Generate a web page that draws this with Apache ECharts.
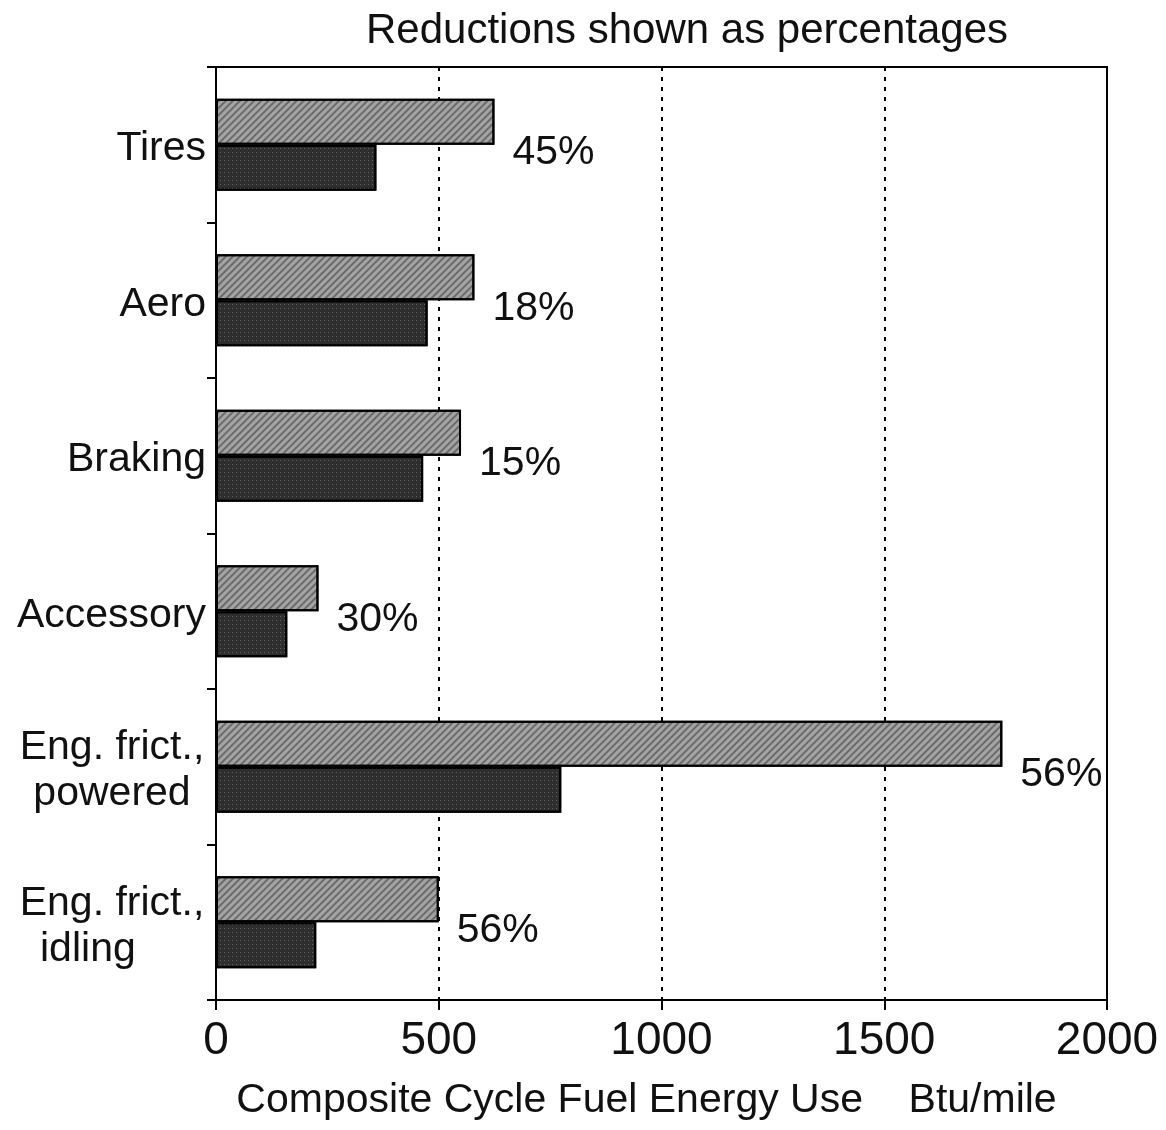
<!DOCTYPE html>
<html>
<head>
<meta charset="utf-8">
<script src="https://cdn.jsdelivr.net/npm/echarts@6/dist/echarts.min.js"></script>
<style>
html,body{margin:0;padding:0;background:#fff;}
#chart{width:1166px;height:1130px;}
</style>
</head>
<body>
<div id="chart"></div>
<script>
const categories = ['Tires', 'Aero', 'Braking', 'Accessory', 'Eng. frict.,\npowered', 'Eng. frict.,\nidling'];
const baselineValues = [625, 580, 550, 230, 1765, 500];
const improvedValues = [360, 475, 465, 160, 775, 225];
const reductionLabels = ['45%', '18%', '15%', '30%', '56%', '56%'];
const xTicks = [0, 500, 1000, 1500, 2000];

const chart = echarts.init(document.getElementById('chart'));
const font = '"Liberation Sans", Arial, sans-serif';
const narrow = '"Liberation Sans Narrow", "Liberation Sans", Arial, sans-serif';

function yLabel(v, i) {
  const lines = v.split('\n');
  if (lines.length === 1) return v;
  if (i === 5) return '{m|' + lines[0] + '}\n{l|' + lines[1] + '}';
  return '{m|' + lines[0] + '}\n{m|' + lines[1] + '}';
}

chart.setOption({
  animation: false,
  backgroundColor: '#fff',
  title: {
    text: 'Reductions shown as percentages',
    left: 682,
    top: 5,
    textAlign: 'center',
    textStyle: { fontFamily: font, fontSize: 42, fontWeight: 'normal', color: '#111' }
  },
  grid: {
    left: 216, right: 59, top: 67, bottom: 130,
    containLabel: false,
    outerBoundsMode: 'none',
    show: true, borderColor: '#000', borderWidth: 2, backgroundColor: 'transparent'
  },
  xAxis: {
    type: 'value',
    min: xTicks[0], max: xTicks[xTicks.length - 1], interval: 500,
    name: 'Composite Cycle Fuel Energy Use    Btu/mile',
    nameLocation: 'middle',
    nameGap: 80,
    nameTextStyle: { fontFamily: font, fontSize: 41, color: '#111', padding: [0, 30, 0, 0] },
    axisLine: { show: true, lineStyle: { color: '#000', width: 2 } },
    axisTick: { show: true, length: 10, inside: false, lineStyle: { color: '#000', width: 2 } },
    axisLabel: {
      fontFamily: narrow, fontSize: 46, color: '#111', margin: 18,
      formatter: v => String(v)
    },
    splitLine: { show: true, lineStyle: { color: '#000', width: 2, type: [4, 6] } }
  },
  yAxis: {
    type: 'category',
    data: categories,
    inverse: true,
    axisLine: { show: true, lineStyle: { color: '#000', width: 2 } },
    axisTick: { show: true, length: 9, inside: false, lineStyle: { color: '#000', width: 2 } },
    axisLabel: {
      fontFamily: font, fontSize: 41, color: '#111', margin: 10, lineHeight: 46, align: 'right',
      padding: [8, 0, 0, 0],
      formatter: yLabel,
      rich: {
        m: { fontFamily: font, fontSize: 41, color: '#111', lineHeight: 46, width: 188, align: 'center' },
        l: { fontFamily: font, fontSize: 41, color: '#111', lineHeight: 46, width: 166, align: 'left', padding: [0, 0, 0, 22] }
      }
    },
    splitLine: { show: false }
  },
  series: [
    {
      name: 'Baseline',
      type: 'bar',
      data: baselineValues,
      barWidth: 46,
      barGap: '0%',
      itemStyle: {
        color: '#a4a4a4', borderColor: '#000', borderWidth: 2,
        decal: { symbol: 'rect', symbolSize: 1, dashArrayX: [1, 0], dashArrayY: [2, 3], rotation: -Math.PI / 4, color: 'rgba(0,0,0,0.35)' }
      },
      label: {
        show: true,
        position: 'right',
        distance: 18,
        offset: [0, 31],
        formatter: p => reductionLabels[p.dataIndex],
        fontFamily: font, fontSize: 41, color: '#111'
      }
    },
    {
      name: 'Improved',
      type: 'bar',
      data: improvedValues,
      barWidth: 46,
      barGap: '0%',
      itemStyle: {
        color: '#2e2e2e', borderColor: '#000', borderWidth: 2,
        decal: { symbol: 'rect', symbolSize: 1, dashArrayX: [1, 3], dashArrayY: [1, 3], color: 'rgba(255,255,255,0.25)' }
      }
    }
  ]
});
</script>
</body>
</html>
